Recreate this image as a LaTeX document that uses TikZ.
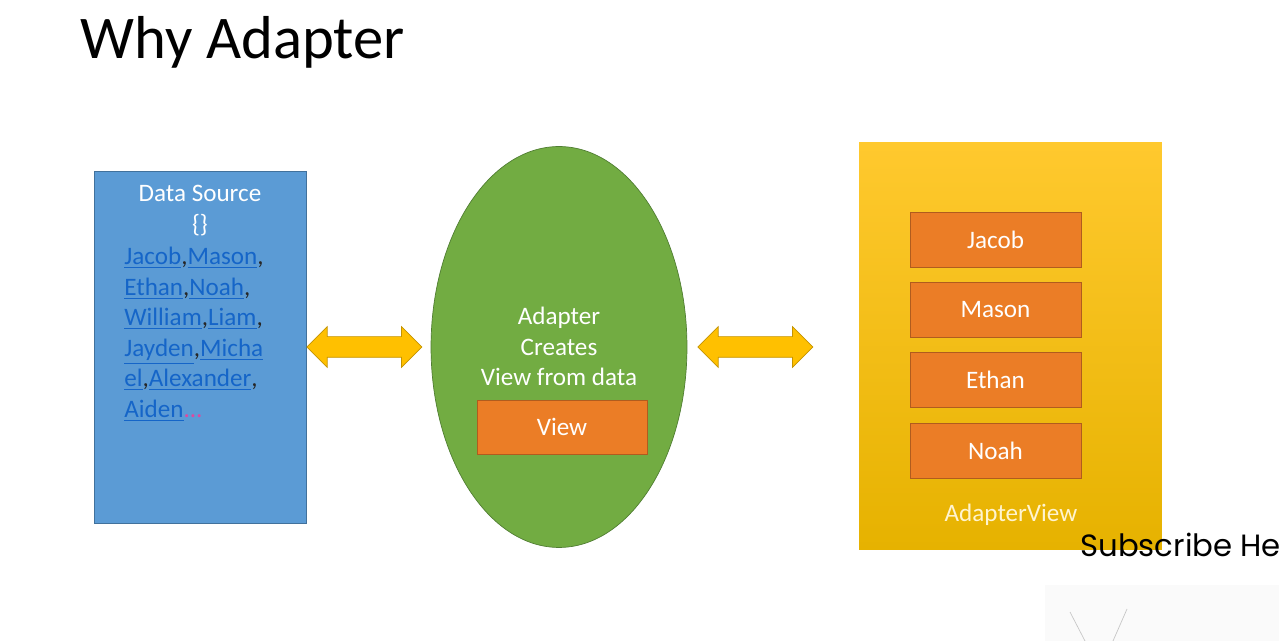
\documentclass[tikz,border=0pt]{standalone}
\usepackage{fontspec}
\setmainfont{Carlito}
\newfontfamily\subfont{Poppins}
\usetikzlibrary{positioning, shapes.geometric, shapes.arrows}

\definecolor{srcblue}{HTML}{5B9BD5}
\definecolor{srcedge}{HTML}{41719C}
\definecolor{adgreen}{HTML}{72AC42}
\definecolor{adedge}{HTML}{507E32}
\definecolor{vorange}{HTML}{EB7D26}
\definecolor{vedge}{HTML}{B05C1E}
\definecolor{gold}{HTML}{FFC000}
\definecolor{goldedge}{HTML}{C49300}
\definecolor{goldtop}{HTML}{FFC92E}
\definecolor{goldbot}{HTML}{E6B200}
\definecolor{linkblue}{HTML}{1565C8}
\definecolor{dotpink}{HTML}{E048A0}
\definecolor{cream}{HTML}{FFF4D0}

\newcommand{\lnk}[1]{\textcolor{linkblue}{\underline{#1}}}

\tikzset{
    body/.style={font=\fontsize{14.3}{17}\selectfont},
    itembox/.style={draw=vedge, fill=vorange, text=white, body, minimum width=3.42cm, minimum height=1.1cm},
    linkarrow/.style={double arrow, draw=goldedge, fill=gold, inner xsep=0pt, inner ysep=0.2cm,
        double arrow head extend=0.2cm, minimum height=2.3cm}
}

\begin{document}
\begin{tikzpicture}[x=0.02cm, y=-0.02cm]
            \useasboundingbox (0, 0) rectangle (1279, 641);
            \fill[white] (0, 0) rectangle (1279, 641);

            \node[anchor=base west, inner sep=0pt, font=\fontsize{34.5}{40}\selectfont] (title) at (80, 59) {Why Adapter};

            % data source
            \node[draw=srcedge, fill=srcblue, minimum width=4.24cm, minimum height=7.04cm] (ds) at (200, 347) {};
            \node[anchor=base, body, text=white] (dshead) at (200, 202) {Data Source};
            \node[anchor=base, body, text=white] (dsbrace) at (200, 232.5) {\{\}};
            \foreach \txt [count=\i] in {{\lnk{Jacob},\lnk{Mason},}, {\lnk{Ethan},\lnk{Noah},},
                {\lnk{William},\lnk{Liam},}, {\lnk{Jayden},\lnk{Micha}}, {\lnk{el},\lnk{Alexander},},
                {\lnk{Aiden}\textcolor{dotpink}{...}}}
                \node[anchor=base west, inner sep=0pt, body, text=black!85] (name\i) at (124, 265 + 30.5*\i - 30.5) {\txt};

            % adapter
            \node[ellipse, draw=adedge, fill=adgreen, inner sep=0pt, minimum width=5.12cm, minimum height=8.02cm] (ad) at (559, 347) {};
            \node[anchor=base, body, text=white] (adl1) at (559, 325) {Adapter};
            \node[anchor=base, body, text=white] (adl2) at (559, 355.5) {Creates};
            \node[anchor=base, body, text=white] (adl3) at (559, 386) {View from data};
            \node[itembox, minimum width=3.4cm, minimum height=1.08cm] (view) at (562, 427) {View};

            % adapter view
            \node[top color=goldtop, middle color=gold, bottom color=goldbot, minimum width=6.06cm, minimum height=8.16cm] (av) at (1010.5, 346) {};
            \node[itembox] (jacob) at (995.5, 239.5) {Jacob};
            \node[itembox] (mason) at (995.5, 309.5) {Mason};
            \node[itembox] (ethan) at (995.5, 379.5) {Ethan};
            \node[itembox] (noah) at (995.5, 450.5) {Noah};
            \node[anchor=base, body, text=cream] (avlabel) at (1011, 522) {AdapterView};

            % arrows
            \node[linkarrow, right=0cm of ds] (arrow1) {};
            \node[linkarrow, right=0.2cm of ad] (arrow2) {};

            \node[anchor=base west, inner sep=0pt, font=\subfont\fontsize{17.5}{21}\selectfont] (subscribe) at (1080, 557) {Subscribe Here};

            \fill[black!2] (1045, 585) rectangle (1279, 641);
            \coordinate (v1) at (1070, 612);
            \coordinate (v1end) at (1085, 641);
            \coordinate (v2) at (1127, 609);
            \coordinate (v2end) at (1113, 641);
            \draw[black!22, thin] (v1) -- (v1end);
            \draw[black!22, thin] (v2) -- (v2end);
        \end{tikzpicture}
\end{document}
